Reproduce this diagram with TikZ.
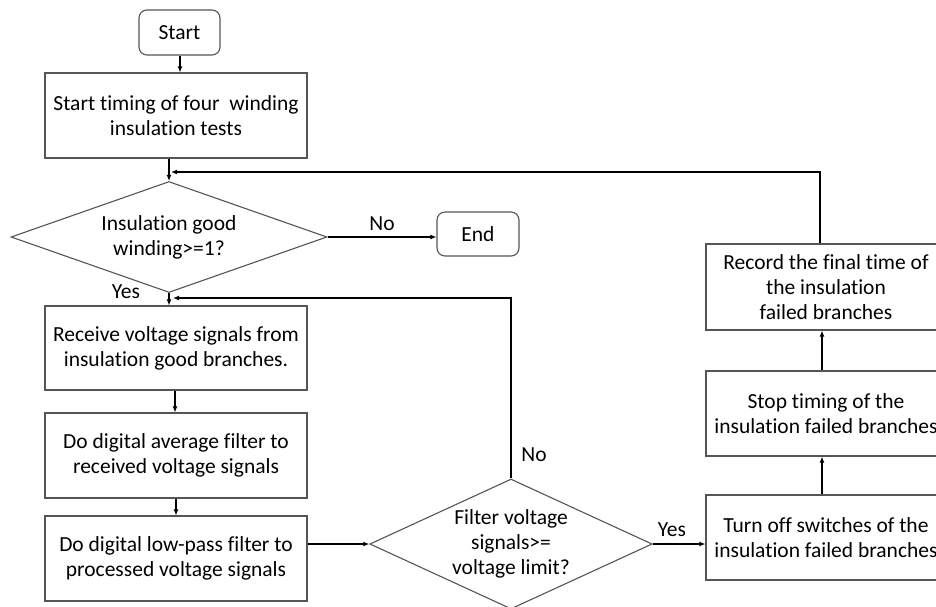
\documentclass[tikz,border=0pt]{standalone}
\usepackage{fontspec}
\setmainfont{Carlito}[Ligatures=NoCommon]
\usetikzlibrary{shapes.geometric,arrows.meta,calc}
\definecolor{boxgray}{RGB}{85,85,85}
\begin{document}
\begin{tikzpicture}[x=1pt,y=-1pt,
  txt/.style={font=\fontsize{21.5}{25}\selectfont, text=black},
  box/.style={txt, draw=boxgray, line width=1.1pt, rectangle, align=center, inner sep=0pt},
  term/.style={box, rounded corners=8pt},
  dec/.style={txt, draw=boxgray, line width=1.1pt, diamond, align=center, inner sep=0pt, aspect=2.4},
  conn/.style={line width=1.4pt, draw=black, -{Latex[length=6pt,width=5pt]}},
  line/.style={line width=1.4pt, draw=black},
  lbl/.style={txt}
]
\clip (0,0) rectangle (936,606);
\fill[white] (0,0) rectangle (936,606);

\node[term, minimum width=81, minimum height=45] (start) at (179.5,32.5) {Start};
\node[box, minimum width=262, minimum height=85] (b1) at (176,115.5) {Start timing of four\ \ winding\\insulation tests};
\node[dec, minimum width=316, minimum height=111] (d1) at (169,237) {Insulation good\\winding>=1?};
\node[term, minimum width=82, minimum height=44] (endn) at (478,234) {End};
\node[box, minimum width=262, minimum height=84] (b2) at (176,348) {Receive voltage signals from\\insulation good branches.};
\node[box, minimum width=262, minimum height=85] (b3) at (176,455.5) {Do digital average filter to\\received voltage signals};
\node[box, minimum width=262, minimum height=85] (b4) at (176,558.5) {Do digital low-pass filter to\\processed voltage signals};
\node[dec, minimum width=278, minimum height=130] (d2) at (511,544) {Filter voltage\\signals>=\\voltage limit?};
\node[box, minimum width=240, minimum height=85] (b5) at (826,537.5) {Turn off switches of the\\insulation failed branches};
\node[box, minimum width=240, minimum height=85] (b6) at (826,413.5) {Stop timing of the\\insulation failed branches};
\node[box, minimum width=240, minimum height=86] (b7) at (826,287) {Record the final time of\\the insulation\\failed branches};

\coordinate (j1) at (171,172);
\coordinate (j2) at (173,298);

\draw[conn] (start.south -| 180,0) -- (b1.north -| 180,0);
\draw[conn] (d1.north |- b1.south) -- (d1.north);
\draw[conn] (d1.south) -- (d1.south |- b2.north);
\draw[conn] (d1.east) -- (d1.east -| endn.west);
\draw[conn] (b2.south -| 175,0) -- (b3.north -| 175,0);
\draw[conn] (b3.south) -- (b4.north);
\draw[conn] (b4.east |- d2.west) -- (d2.west);
\draw[conn] (d2.east) -- (d2.east -| b5.west);
\draw[conn] (b5.north -| 822,0) -- (b6.south -| 822,0);
\draw[conn] (b6.north -| 822,0) -- (b7.south -| 822,0);
\draw[conn] (b7.north -| 820,0) -- (820,172) -- (j1);
\draw[conn] (d2.north) -- (d2.north |- j2) -- (j2);

\node[lbl] (yes1) at (126,292) {Yes};
\node[lbl] (no1) at (382,224) {No};
\node[lbl] (no2) at (534,455) {No};
\node[lbl] (yes2) at (672,530) {Yes};
\end{tikzpicture}
\end{document}
